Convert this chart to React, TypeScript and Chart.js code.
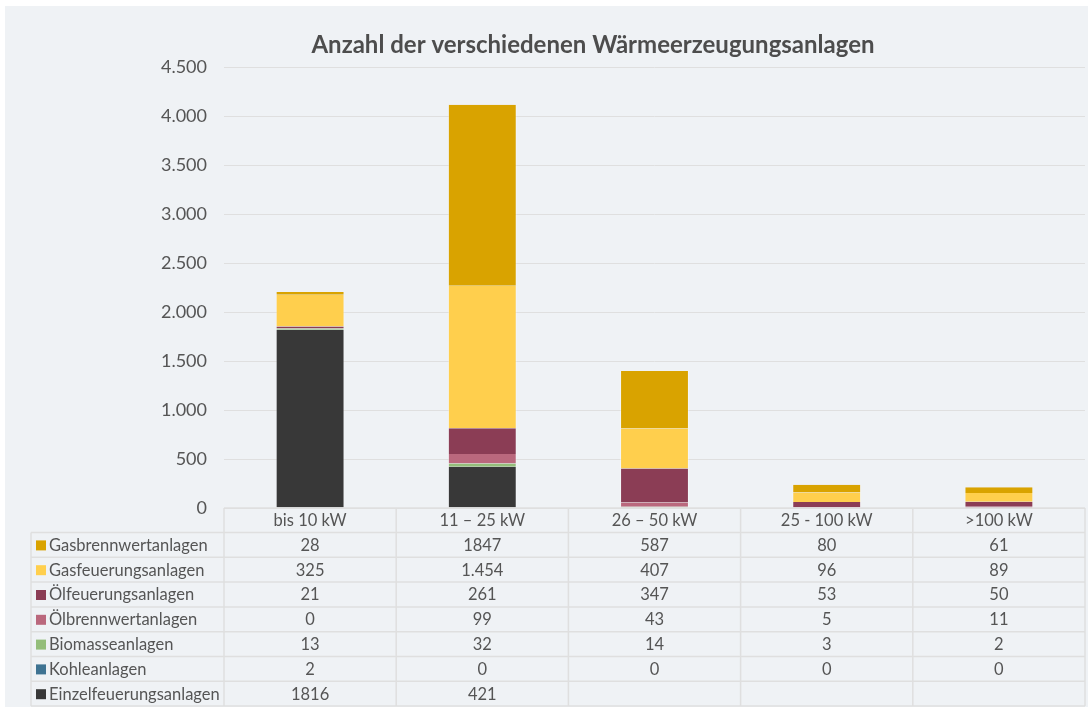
import React, { useEffect, useRef } from "react";
import { Chart, registerables } from "chart.js";

Chart.register(...registerables);

const title = "Anzahl der verschiedenen Wärmeerzeugungsanlagen";
const categories = ["bis 10 kW", "11 – 25 kW", "26 – 50 kW", "25 - 100 kW", ">100 kW"];
const yTicks = [0, 500, 1000, 1500, 2000, 2500, 3000, 3500, 4000, 4500];

// Series (top-of-table order)
const gasbrennwert = [28, 1847, 587, 80, 61];
const gasfeuerung = [325, 1454, 407, 96, 89];
const oelfeuerung = [21, 261, 347, 53, 50];
const oelbrennwert = [0, 99, 43, 5, 11];
const biomasse = [13, 32, 14, 3, 2];
const kohle = [2, 0, 0, 0, 0];
const einzelfeuerung: (number | null)[] = [1816, 421, null, null, null];

const seriesNames = [
  "Gasbrennwertanlagen",
  "Gasfeuerungsanlagen",
  "Ölfeuerungsanlagen",
  "Ölbrennwertanlagen",
  "Biomasseanlagen",
  "Kohleanlagen",
  "Einzelfeuerungsanlagen",
];
const seriesValues = [gasbrennwert, gasfeuerung, oelfeuerung, oelbrennwert, biomasse, kohle, einzelfeuerung];
const seriesColors = ["#d9a300", "#ffcf4d", "#8b3d55", "#ba687d", "#94be7a", "#3e7392", "#383838"];
const seriesGrouped = [false, true, false, false, false, false, false];

const FONT = "Lato, 'Open Sans', sans-serif";
const TEXT = "#555555";
const GRID = "#dfdfdf";

function fmtDE(v: number): string {
  const s = String(Math.round(v));
  return s.replace(/\B(?=(\d{3})+(?!\d))/g, ".");
}

const tablePlugin = {
  id: "dataTable",
  afterDraw(chart: any) {
    const ctx = chart.ctx as CanvasRenderingContext2D;
    const area = chart.chartArea;
    const xs = chart.scales.x;
    const n = categories.length;
    const colW = (area.right - area.left) / n;
    const headerTop = area.bottom;
    const headerH = 24.5;
    const rowH = 24.8;
    const rowsTop = headerTop + headerH;
    const legendLeft = 26;
    const nRows = seriesNames.length;
    const bottom = rowsTop + rowH * nRows;

    ctx.save();
    ctx.strokeStyle = GRID;
    ctx.lineWidth = 1.5;
    ctx.beginPath();
    ctx.moveTo(area.left, headerTop);
    ctx.lineTo(area.right, headerTop);
    for (let i = 0; i <= n; i++) {
      const x = area.left + i * colW;
      ctx.moveTo(x, headerTop);
      ctx.lineTo(x, bottom);
    }
    for (let r = 0; r <= nRows; r++) {
      const y = rowsTop + r * rowH;
      ctx.moveTo(legendLeft, y);
      ctx.lineTo(area.right, y);
    }
    ctx.moveTo(legendLeft, rowsTop);
    ctx.lineTo(legendLeft, bottom);
    ctx.stroke();

    ctx.fillStyle = TEXT;
    ctx.font = `16.5px ${FONT}`;
    ctx.textBaseline = "middle";
    ctx.textAlign = "center";
    for (let i = 0; i < n; i++) {
      const cx = xs.getPixelForValue(i);
      ctx.fillText(categories[i], cx, headerTop + headerH / 2 + 0.5);
    }
    for (let r = 0; r < nRows; r++) {
      const cy = rowsTop + r * rowH + rowH / 2 + 0.5;
      ctx.fillStyle = seriesColors[r];
      ctx.fillRect(legendLeft + 5, cy - 5, 10, 10);
      ctx.fillStyle = TEXT;
      ctx.textAlign = "left";
      ctx.fillText(seriesNames[r], legendLeft + 18, cy);
      ctx.textAlign = "center";
      const vals = seriesValues[r];
      for (let i = 0; i < n; i++) {
        const v = vals[i];
        if (v === null || v === undefined) continue;
        const txt = seriesGrouped[r] ? fmtDE(v) : String(v);
        ctx.fillText(txt, xs.getPixelForValue(i), cy);
      }
    }

    ctx.font = `bold 24px ${FONT}`;
    ctx.fillStyle = "#4d4d4d";
    ctx.textAlign = "center";
    ctx.fillText(title, 588, 39);
    ctx.restore();
  },
};

export default function App() {
  const ref = useRef<HTMLCanvasElement | null>(null);
  useEffect(() => {
    if (!ref.current) return;
    const order = [6, 5, 4, 3, 2, 1, 0];
    const chart = new Chart(ref.current, {
      type: "bar",
      data: {
        labels: categories,
        datasets: order.map((k) => ({
          label: seriesNames[k],
          data: seriesValues[k] as any,
          backgroundColor: seriesColors[k],
          borderColor: "rgba(255,255,255,0.35)",
          borderWidth: { left: 1, right: 1, top: 0, bottom: 0 } as any,
          categoryPercentage: 1,
          barPercentage: 0.4,
        })),
      },
      options: {
        animation: false,
        responsive: false,
        devicePixelRatio: 1,
        layout: { padding: { left: 0, top: 61, right: 3, bottom: 199 } },
        plugins: {
          legend: { display: false },
          title: { display: false },
          tooltip: { enabled: false },
        },
        scales: {
          x: {
            stacked: true,
            display: false,
          },
          y: {
            stacked: true,
            min: 0,
            max: 4500,
            afterBuildTicks(scale: any) {
              scale.ticks = yTicks.map((v) => ({ value: v }));
            },
            afterFit(scale: any) {
              scale.width = 219;
            },
            border: { display: false },
            grid: { color: GRID, lineWidth: 1, drawTicks: false },
            ticks: {
              padding: 17,
              color: TEXT,
              font: { family: FONT, size: 18 },
              callback: (v: any) => fmtDE(Number(v)),
            },
          },
        },
      },
      plugins: [tablePlugin],
    });
    return () => chart.destroy();
  }, []);

  return (
    <div
      style={{
        position: "fixed",
        left: 5,
        top: 6,
        width: 1083,
        height: 701,
        background: "#eff2f5",
      }}
    >
      <canvas ref={ref} width={1083} height={701} style={{ display: "block" }} />
    </div>
  );
}
